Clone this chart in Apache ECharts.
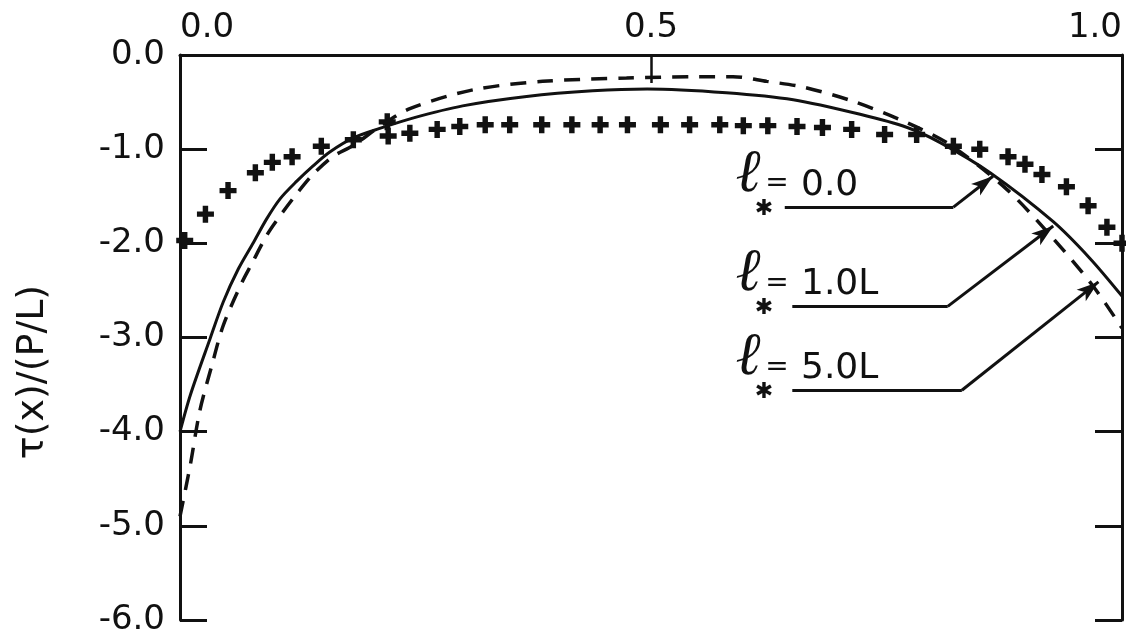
<!DOCTYPE html>
<html>
<head>
<meta charset="utf-8">
<script src="https://cdn.jsdelivr.net/npm/echarts@6/dist/echarts.min.js"></script>
<style>html,body{margin:0;padding:0;background:#fff}#c{width:1126px;height:637px}</style>
</head>
<body>
<div id="c"></div>
<script>
// ---- data ----
const xTicks = [0.0, 0.5, 1.0];
const yTicks = [0.0, -1.0, -2.0, -3.0, -4.0, -5.0, -6.0];
const yTitle = 'τ(x)/(P/L)';

// l* = 1.0L  (solid)
const solidX = [0, 0.011, 0.032, 0.046, 0.062, 0.078, 0.092, 0.106, 0.124, 0.141, 0.159, 0.184, 0.212, 0.247, 0.30, 0.368, 0.438, 0.496, 0.58, 0.651, 0.722, 0.772, 0.807, 0.86, 0.927, 0.966, 1.0];
const solidY = [-4.0, -3.61, -3.01, -2.62, -2.27, -1.99, -1.74, -1.53, -1.34, -1.18, -1.03, -0.88, -0.78, -0.67, -0.54, -0.44, -0.38, -0.36, -0.40, -0.475, -0.63, -0.77, -0.93, -1.25, -1.77, -2.16, -2.56];

// l* = 5.0L  (dashed)
const dashX = [0, 0.011, 0.021, 0.034, 0.046, 0.066, 0.076, 0.093, 0.109, 0.125, 0.141, 0.162, 0.184, 0.212, 0.244, 0.311, 0.385, 0.474, 0.552, 0.587, 0.623, 0.661, 0.714, 0.772, 0.817, 0.878, 0.927, 0.969, 1.0];
const dashY = [-4.9, -4.35, -3.78, -3.29, -2.87, -2.41, -2.22, -1.90, -1.67, -1.46, -1.27, -1.08, -0.96, -0.76, -0.57, -0.37, -0.28, -0.245, -0.23, -0.23, -0.28, -0.34, -0.49, -0.72, -0.95, -1.43, -1.95, -2.45, -2.9];

// l* = 0.0  (plus markers)
const plusX = [0.005, 0.027, 0.051, 0.08, 0.098, 0.119, 0.15, 0.184, 0.22, 0.221, 0.244, 0.273, 0.297, 0.324, 0.350, 0.384, 0.416, 0.446, 0.475, 0.510, 0.541, 0.573, 0.598, 0.624, 0.655, 0.682, 0.713, 0.748, 0.782, 0.821, 0.849, 0.879, 0.897, 0.915, 0.941, 0.964, 0.984, 1.0];
const plusY = [-1.97, -1.69, -1.44, -1.25, -1.14, -1.08, -0.97, -0.90, -0.71, -0.86, -0.83, -0.79, -0.76, -0.74, -0.74, -0.74, -0.74, -0.74, -0.74, -0.74, -0.74, -0.74, -0.75, -0.75, -0.76, -0.77, -0.79, -0.845, -0.845, -0.97, -1.0, -1.08, -1.16, -1.27, -1.40, -1.6, -1.83, -2.0];

// annotations: label text, underline start x, underline end x, underline y, arrow tip x, arrow tip y
const annoText = ['0.0', '1.0L', '5.0L'];
const annoX0 = [0.642, 0.65, 0.65];
const annoX1 = [0.821, 0.815, 0.830];
const annoY = [-1.616, -2.67, -3.56];
const annoTipX = [0.863, 0.927, 0.975];
const annoTipY = [-1.288, -1.816, -2.41];
const annoTextX = 0.603;

// ---- chart ----
const ink = '#111';
const zip = (a, b) => a.map((v, i) => [v, b[i]]);
const plusPath = 'path://M3.4,0H6.6V3.4H10V6.6H6.6V10H3.4V6.6H0V3.4H3.4Z';

const leaderLines = [];
annoText.forEach((t, i) => {
  leaderLines.push([{coord: [annoX0[i], annoY[i]], symbol: 'none'}, {coord: [annoX1[i], annoY[i]], symbol: 'none'}]);
  leaderLines.push([{coord: [annoX1[i], annoY[i]], symbol: 'none'}, {coord: [annoTipX[i], annoTipY[i]], symbol: 'arrow', symbolSize: [11, 22]}]);
});

const textPoints = [];
annoText.forEach((t, i) => {
  const c = [annoTextX, annoY[i]];
  textPoints.push({coord: c, label: {formatter: 'ℓ', offset: [0, -32], fontSize: 60, fontStyle: 'italic', fontFamily: 'DejaVu Serif', align: 'center', verticalAlign: 'middle'}});
  textPoints.push({coord: c, label: {formatter: '✱', offset: [16, 2], fontSize: 22, align: 'center', verticalAlign: 'middle'}});
  textPoints.push({coord: c, label: {formatter: '=', offset: [29, -23], fontSize: 28, align: 'center', verticalAlign: 'middle'}});
  textPoints.push({coord: c, label: {formatter: t, offset: [53, -22], fontSize: 36, align: 'left', verticalAlign: 'middle'}});
});

const chart = echarts.init(document.getElementById('c'), null, {renderer: 'canvas'});
const labelFmt = v => v.toFixed(1);
const yAxisBase = {
  type: 'value', min: -6, max: 0, interval: 1,
  axisLine: {show: true, onZero: false, lineStyle: {color: ink, width: 3}},
  axisTick: {show: true, inside: true, length: 27, lineStyle: {color: ink, width: 3}},
  splitLine: {show: false}
};
chart.setOption({
  animation: false,
  backgroundColor: '#fff',
  textStyle: {fontFamily: 'DejaVu Sans', color: ink},
  grid: {left: 180, right: 4, top: 55, bottom: 14, containLabel: false},
  xAxis: {
    type: 'value', position: 'top', min: 0, max: 1, interval: 0.5,
    axisLine: {show: true, onZero: false, lineStyle: {color: ink, width: 3}},
    axisTick: {show: true, inside: true, length: 28, lineStyle: {color: ink, width: 2.5}},
    axisLabel: {formatter: v => xTicks.includes(v) ? labelFmt(v) : '', fontSize: 34, color: ink, margin: 10, alignMinLabel: 'left', alignMaxLabel: 'right', showMinLabel: true, showMaxLabel: true},
    splitLine: {show: false}
  },
  yAxis: [
    Object.assign({}, yAxisBase, {position: 'left', axisLabel: {formatter: v => yTicks.includes(v) ? labelFmt(v) : '', fontSize: 34, color: ink, margin: 15}}),
    Object.assign({}, yAxisBase, {position: 'right', axisLabel: {show: false}})
  ],
  graphic: [{
    type: 'text', x: 33, y: 372, rotation: Math.PI / 2,
    style: {text: yTitle, fontSize: 38, fontFamily: 'DejaVu Sans', fill: ink, align: 'center', verticalAlign: 'middle'}
  }],
  series: [
    {
      name: 'l* = 1.0L', type: 'line', data: zip(solidX, solidY), showSymbol: false, smooth: 0.3,
      lineStyle: {color: ink, width: 3}, silent: true,
      markLine: {silent: true, animation: false, symbol: ['none', 'none'], label: {show: false},
        lineStyle: {color: ink, width: 3, type: 'solid'}, emphasis: {disabled: true}, data: leaderLines},
      markPoint: {silent: true, symbol: 'circle', symbolSize: 0, itemStyle: {color: 'rgba(0,0,0,0)'},
        label: {show: true, position: 'inside', color: ink, fontFamily: 'DejaVu Sans'}, data: textPoints}
    },
    {
      name: 'l* = 5.0L', type: 'line', data: zip(dashX, dashY), showSymbol: false, smooth: 0.3,
      lineStyle: {color: ink, width: 3.5, type: [16, 11]}, silent: true
    },
    {
      name: 'l* = 0.0', type: 'scatter', data: zip(plusX, plusY), symbol: plusPath, symbolSize: 17,
      itemStyle: {color: ink, opacity: 1}, silent: true
    }
  ]
});
</script>
</body>
</html>
